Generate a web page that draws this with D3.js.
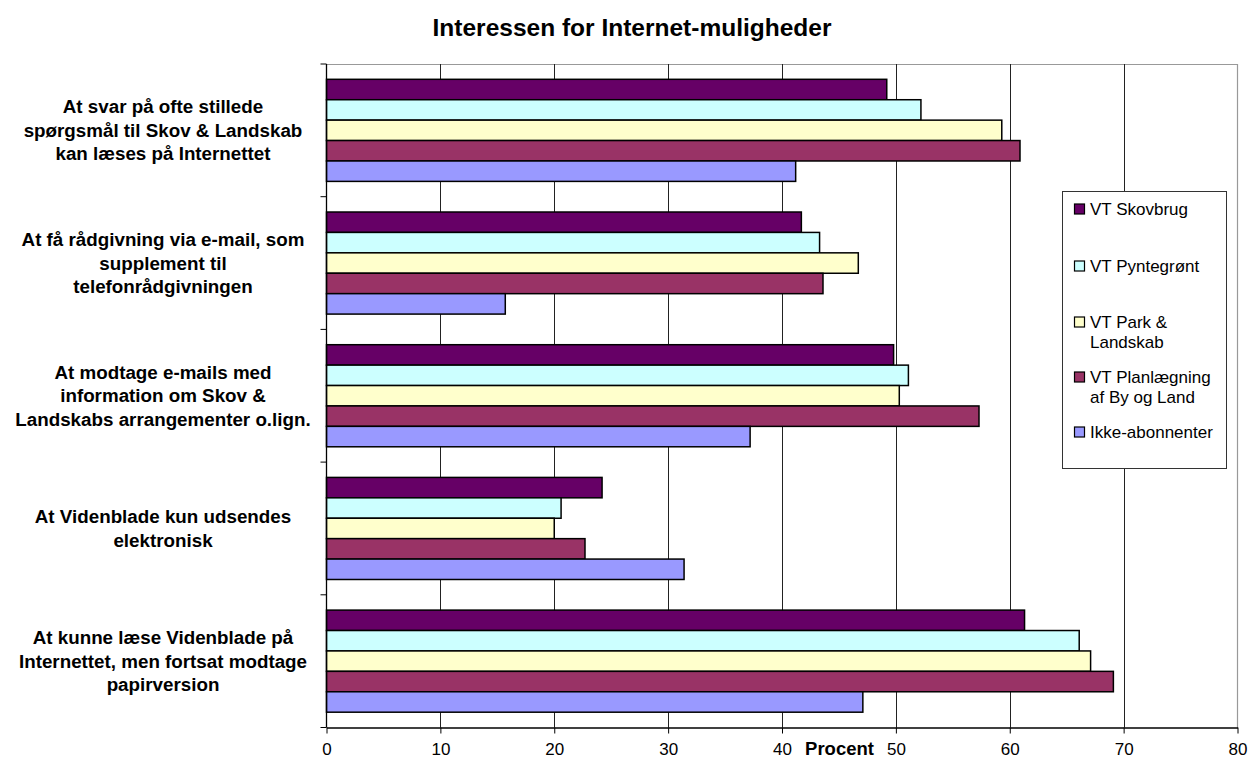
<!DOCTYPE html>
<html><head><meta charset="utf-8">
<script src="https://cdn.jsdelivr.net/npm/d3@7"></script>
<style>
body{margin:0;background:#fff;}
text{font-family:Arial,"Liberation Sans",sans-serif;}
</style></head>
<body><svg id="c" width="1249" height="762"></svg>
<script>
const title = "Interessen for Internet-muligheder";
const categories = [
  ["At svar på ofte stillede","spørgsmål til Skov & Landskab","kan læses på Internettet"],
  ["At få rådgivning via e-mail, som","supplement til","telefonrådgivningen"],
  ["At modtage e-mails med","information om Skov &","Landskabs arrangementer o.lign."],
  ["At Videnblade kun udsendes","elektronisk"],
  ["At kunne læse Videnblade på","Internettet, men fortsat modtage","papirversion"]
];
const seriesNames = ["VT Skovbrug","VT Pyntegrønt","VT Park & Landskab","VT Planlægning af By og Land","Ikke-abonnenter"];
const legendLines = [["VT Skovbrug"],["VT Pyntegrønt"],["VT Park &","Landskab"],["VT Planlægning","af By og Land"],["Ikke-abonnenter"]];
const skovbrug    = [49.2, 41.7, 49.8, 24.2, 61.3];
const pyntegroent = [52.2, 43.3, 51.1, 20.6, 66.1];
const parkLandskab= [59.3, 46.7, 50.3, 20.0, 67.1];
const planlaegning= [60.9, 43.6, 57.3, 22.7, 69.1];
const ikkeAbonn   = [41.2, 15.7, 37.2, 31.4, 47.1];
const colors = ["#660066","#CCFFFF","#FFFFCC","#993366","#9999FF"];
const xTicks = [0,10,20,30,40,50,60,70,80];
const xLabel = "Procent";

const seriesValues = [skovbrug, pyntegroent, parkLandskab, planlaegning, ikkeAbonn];
const svg = d3.select("#c");
const L = 326.5, R = 1237.5, T = 64, B = 727.5;

const x = d3.scaleLinear().domain([0,80]).range([L,R]);
const y = d3.scaleBand().domain(d3.range(categories.length)).range([T,B]).padding(0);
const bw = y.bandwidth();
const gap = bw*0.3/1.3/2;
const ys = d3.scaleBand().domain(d3.range(seriesNames.length)).range([gap, bw-gap]).padding(0);

// title
svg.append("text").attr("x",632).attr("y",36).attr("text-anchor","middle")
  .attr("font-size","24.5px").attr("font-weight","bold").text(title);

// plot border (gray) top & right
svg.append("line").attr("x1",L).attr("x2",R).attr("y1",T+0.5).attr("y2",T+0.5).attr("stroke","#999").attr("stroke-width",1.2);
svg.append("line").attr("x1",R).attr("x2",R).attr("y1",T).attr("y2",B).attr("stroke","#999").attr("stroke-width",1.2);

// gridlines
svg.append("g").selectAll("line").data(xTicks.filter(d=>d>0 && d<80)).join("line")
  .attr("x1",d=>Math.round(x(d))+0.5).attr("x2",d=>Math.round(x(d))+0.5)
  .attr("y1",T).attr("y2",B).attr("stroke","#222").attr("stroke-width",1);

// bars
const g = svg.append("g");
categories.forEach((c,ci)=>{
  seriesValues.forEach((vals,si)=>{
    g.append("rect")
      .attr("x",x(0)).attr("y",y(ci)+ys(si))
      .attr("width",x(vals[ci])-x(0)).attr("height",ys.bandwidth())
      .attr("fill",colors[si]).attr("stroke","#000").attr("stroke-width",1.5);
  });
});

// x axis
const xAxis = d3.axisBottom(x).tickValues(xTicks).tickSize(6).tickSizeOuter(0);
const xa = svg.append("g").attr("transform",`translate(0,${B})`).call(xAxis);
xa.select(".domain").attr("stroke","#000").attr("stroke-width",1.3);
xa.selectAll(".tick line").attr("stroke","#000");
xa.selectAll(".tick text").attr("font-size","17px").attr("fill","#000")
  .attr("font-family","Arial, 'Liberation Sans', sans-serif").attr("dy",null).attr("y",27);

// y axis line and ticks at band boundaries
const yBounds = d3.range(categories.length+1).map(i=>T+i*bw);
svg.append("line").attr("x1",L).attr("x2",L).attr("y1",T).attr("y2",B).attr("stroke","#000").attr("stroke-width",1.3);
svg.append("g").selectAll("line").data(yBounds).join("line")
  .attr("x1",L-6).attr("x2",L).attr("y1",d=>d).attr("y2",d=>d).attr("stroke","#000").attr("stroke-width",1);

// category labels
categories.forEach((lines,ci)=>{
  const cy = y(ci)+bw/2;
  const lh = 23.5;
  const t = svg.append("text").attr("text-anchor","middle").attr("font-size","18.8px").attr("font-weight","bold");
  lines.forEach((ln,li)=>{
    t.append("tspan").attr("x",163).attr("y",cy + (li-(lines.length-1)/2)*lh + 6.5).text(ln);
  });
});

// x label
svg.append("text").attr("x",839.5).attr("y",754.5).attr("text-anchor","middle")
  .attr("font-size","18.5px").attr("font-weight","bold").text(xLabel);

// legend
const lg = svg.append("g");
lg.append("rect").attr("x",1062.5).attr("y",191.5).attr("width",164).attr("height",277)
  .attr("fill","#fff").attr("stroke","#333").attr("stroke-width",1);
const itemY = [209,266,322,377,432];
legendLines.forEach((lines,i)=>{
  lg.append("rect").attr("x",1074.5).attr("y",itemY[i]-5).attr("width",10).attr("height",10)
    .attr("fill",colors[i]).attr("stroke","#000").attr("stroke-width",1.2);
  const t = lg.append("text").attr("font-size","17px");
  lines.forEach((ln,li)=>{
    t.append("tspan").attr("x",1090).attr("y",itemY[i]+6+li*19.5).text(ln);
  });
});
</script></body></html>
